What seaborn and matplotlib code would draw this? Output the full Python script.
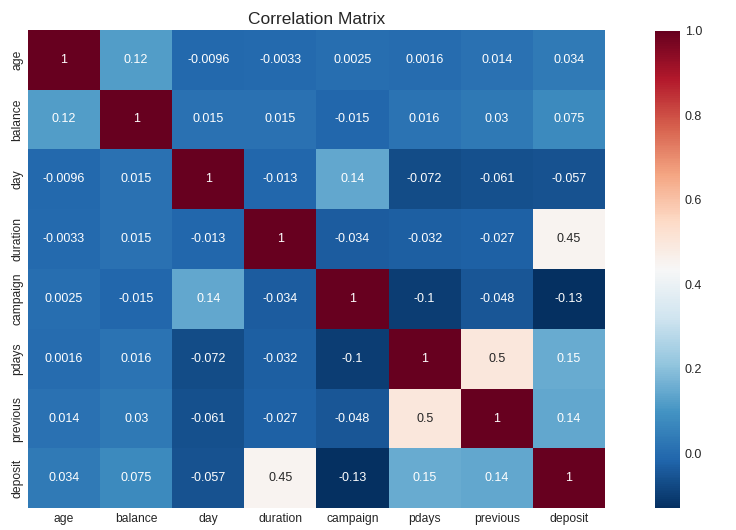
import numpy as np
import pandas as pd
import matplotlib
matplotlib.use("Agg")
import matplotlib.pyplot as plt
import seaborn as sns

columns = ['age', 'balance', 'day', 'duration', 'campaign', 'pdays', 'previous', 'deposit']

age = [1, 0.12, -0.0096, -0.0033, 0.0025, 0.0016, 0.014, 0.034]
balance = [0.12, 1, 0.015, 0.015, -0.015, 0.016, 0.03, 0.075]
day = [-0.0096, 0.015, 1, -0.013, 0.14, -0.072, -0.061, -0.057]
duration = [-0.0033, 0.015, -0.013, 1, -0.034, -0.032, -0.027, 0.45]
campaign = [0.0025, -0.015, 0.14, -0.034, 1, -0.1, -0.048, -0.13]
pdays = [0.0016, 0.016, -0.072, -0.032, -0.1, 1, 0.5, 0.15]
previous = [0.014, 0.03, -0.061, -0.027, -0.048, 0.5, 1, 0.14]
deposit = [0.034, 0.075, -0.057, 0.45, -0.13, 0.15, 0.14, 1]

corr = pd.DataFrame([age, balance, day, duration, campaign, pdays, previous, deposit],
                    index=columns, columns=columns)

sns.set_style("white")
plt.rcParams['font.family'] = ['Liberation Sans', 'DejaVu Sans']

fig = plt.figure(figsize=(7.36, 5.30), dpi=100)
ax = fig.add_axes([0.038, 0.041, 0.784, 0.903])
cax = fig.add_axes([0.890, 0.041, 0.034, 0.901])

sns.heatmap(corr, annot=True, cmap='RdBu_r', ax=ax, cbar_ax=cax,
            annot_kws={'fontsize': 9})
ax.set_title('Correlation Matrix', fontsize=12.5, color='.15', pad=4)
ax.tick_params(axis='both', labelsize=8.7, colors='.15', length=0)
cax.tick_params(labelsize=9, colors='.15', length=0)
cax.set_yticks([0.0, 0.2, 0.4, 0.6, 0.8, 1.0])

fig.savefig('out.png', dpi=100)
